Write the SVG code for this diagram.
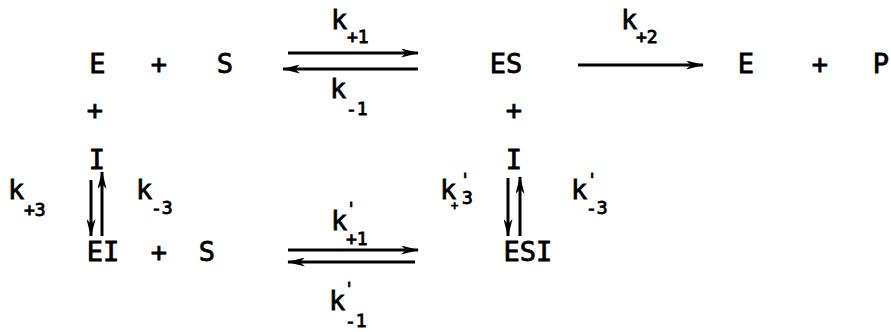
<svg xmlns="http://www.w3.org/2000/svg" width="891" height="332" viewBox="0 0 891 332">
<defs>
<style>
text{font-family:"DejaVu Sans Mono","Liberation Mono",monospace;fill:#000;stroke:#000;stroke-width:0.8}
.t{font-size:27px;text-anchor:middle}
.k{font-size:27px}
.s{font-size:18px;stroke-width:0.9}
.p{font-size:17px}
.ln{stroke:#000;stroke-width:3;fill:none}
</style>
<marker id="ah" viewBox="0 0 18 9" refX="17" refY="4.5" markerWidth="18" markerHeight="9" markerUnits="userSpaceOnUse" orient="auto">
<path d="M0,0 L18,4.5 L0,9 L5,4.5 Z" fill="#000"/>
</marker>
</defs>
<rect width="891" height="332" fill="#fff"/>

<g id="E1"><text class="t" x="97.5" y="73">E</text></g>
<g id="plus1"><text class="t" x="159" y="73">+</text></g>
<g id="S1"><text class="t" x="225" y="73">S</text></g>
<g id="ES"><text class="t" x="506" y="73">ES</text></g>
<g id="E2"><text class="t" x="746" y="73">E</text></g>
<g id="plus2"><text class="t" x="820" y="73">+</text></g>
<g id="P"><text class="t" x="881" y="73">P</text></g>

<g id="plusI1"><text class="t" x="95" y="119">+</text></g>
<g id="plusI2"><text class="t" x="514" y="119">+</text></g>
<g id="I1"><text class="t" x="97" y="169">I</text></g>
<g id="I2"><text class="t" x="514" y="169">I</text></g>

<g id="EI"><text class="t" x="103" y="261">EI</text></g>
<g id="plus3"><text class="t" x="159" y="261">+</text></g>
<g id="S2"><text class="t" x="207" y="261">S</text></g>
<g id="ESI"><text class="t" x="528" y="261">ESI</text></g>

<g id="connectors">
<line class="ln" x1="288" y1="53" x2="418" y2="53" marker-end="url(#ah)"/>
<line class="ln" x1="418" y1="69" x2="283" y2="69" marker-end="url(#ah)"/>
<line class="ln" x1="578" y1="65" x2="703" y2="65" marker-end="url(#ah)"/>
<line class="ln" x1="288" y1="250" x2="418" y2="250" marker-end="url(#ah)"/>
<line class="ln" x1="415" y1="262" x2="288" y2="262" marker-end="url(#ah)"/>
<line class="ln" x1="91" y1="180" x2="91" y2="236" marker-end="url(#ah)"/>
<line class="ln" x1="102" y1="236" x2="102" y2="172" marker-end="url(#ah)"/>
<line class="ln" x1="508" y1="178" x2="508" y2="236" marker-end="url(#ah)"/>
<line class="ln" x1="520" y1="236" x2="520" y2="177" marker-end="url(#ah)"/>
</g>

<g id="labels">
<text class="k" x="331" y="29">k</text><text class="s" x="347" y="43">+1</text>
<text class="k" x="330" y="98">k</text><text class="s" x="346" y="115">-1</text>
<text class="k" x="621" y="29">k</text><text class="s" x="636" y="43">+2</text>
<text class="k" x="8" y="199">k</text><text class="s" x="24" y="216">+3</text>
<text class="k" x="136" y="199">k</text><text class="s" x="151" y="214">-3</text>
<text class="k" x="331" y="230">k</text><text class="p" x="346" y="215">'</text><text class="s" x="346" y="245">+1</text>
<text class="k" x="329" y="310">k</text><text class="p" x="344" y="295">'</text><text class="s" x="345" y="327">-1</text>
<text class="k" x="440" y="199">k</text><text class="p" x="460" y="186">'</text><text style="font-size:12px" x="451" y="210">+</text><text class="s" x="462" y="204">3</text>
<text class="k" x="571" y="199">k</text><text class="p" x="587" y="186">'</text><text class="s" x="586" y="214">-3</text>
</g>
</svg>
